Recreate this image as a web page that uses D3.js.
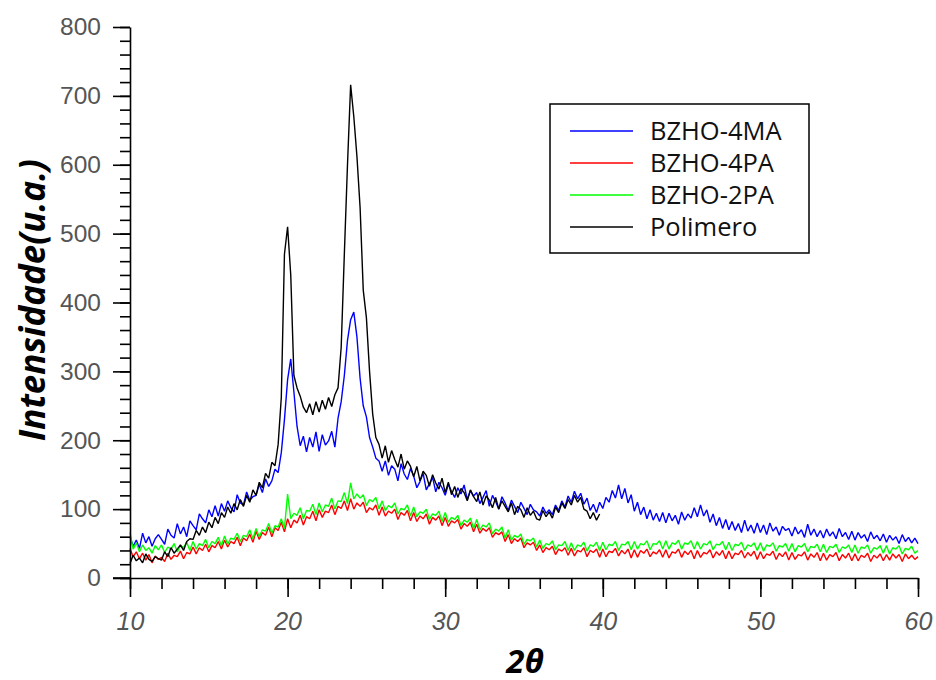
<!DOCTYPE html>
<html>
<head>
<meta charset="utf-8">
<script src="https://cdn.jsdelivr.net/npm/d3@7"></script>
<style>
  body { margin: 0; background: #fff; }
  svg { display: block; font-family: "Open Sans", sans-serif; }
</style>
</head>
<body>
<svg id="chart" width="936" height="680"></svg>
<script>
const start = 10;
const step = 0.2;

// BZHO-4MA
const bzho4ma = [
  60, 46, 55, 43, 65, 51, 60, 46, 57, 63,
  56, 49, 71, 62, 58, 79, 64, 74, 60, 83,
  76, 70, 93, 86, 80, 99, 89, 105, 90, 108,
  97, 112, 102, 96, 121, 109, 106, 125, 113, 118,
  120, 136, 124, 144, 133, 141, 158, 153, 182, 230,
  288, 318, 270, 220, 192, 206, 183, 204, 190, 212,
  184, 208, 193, 199, 213, 190, 232, 256, 294, 345,
  375, 386, 350, 290, 250, 234, 204, 190, 174, 170,
  155, 170, 149, 163, 158, 141, 166, 151, 143, 159,
  148, 131, 140, 152, 128, 137, 146, 125, 139, 131,
  120, 136, 126, 117, 131, 122, 135, 114, 127, 119,
  124, 108, 117, 127, 104, 120, 111, 100, 118, 109,
  98, 113, 104, 95, 110, 101, 92, 107, 99, 96,
  90, 103, 94, 99, 92, 106, 98, 112, 103, 119,
  110, 126, 115, 123, 107, 116, 98, 107, 95, 110,
  101, 117, 110, 127, 116, 135, 115, 130, 109, 121,
  97, 110, 92, 103, 86, 99, 84, 94, 82, 95,
  80, 94, 83, 91, 78, 96, 84, 93, 87, 102,
  89, 106, 90, 99, 81, 93, 76, 88, 72, 85,
  70, 82, 69, 79, 66, 84, 68, 77, 65, 80,
  66, 77, 63, 80, 68, 74, 62, 75, 69, 72,
  61, 74, 64, 70, 59, 78, 62, 71, 60, 69,
  58, 71, 61, 67, 57, 72, 60, 66, 56, 68,
  55, 66, 58, 63, 53, 67, 57, 62, 54, 64,
  52, 62, 55, 60, 50, 63, 53, 59, 51, 58,
  50
];

// BZHO-4PA
const bzho4pa = [
  43, 31, 38, 28, 36, 26, 34, 22, 32, 27,
  30, 24, 36, 27, 33, 31, 39, 28, 37, 35,
  45, 35, 44, 40, 49, 38, 47, 44, 53, 42,
  55, 45, 53, 50, 59, 47, 58, 54, 64, 52,
  68, 56, 66, 62, 74, 60, 73, 69, 81, 67,
  86, 73, 84, 80, 91, 77, 89, 86, 97, 83,
  99, 88, 97, 95, 106, 92, 104, 101, 112, 98,
  115, 100, 109, 104, 110, 95, 102, 99, 106, 91,
  103, 90, 97, 94, 100, 85, 95, 91, 98, 83,
  95, 82, 90, 86, 93, 78, 88, 84, 90, 76,
  88, 75, 83, 80, 85, 71, 79, 75, 81, 67,
  78, 65, 72, 68, 73, 59, 66, 63, 67, 53,
  63, 50, 57, 53, 58, 44, 51, 48, 52, 40,
  48, 37, 44, 41, 46, 34, 42, 39, 44, 33,
  43, 32, 40, 38, 44, 31, 40, 37, 42, 30,
  42, 31, 39, 37, 43, 32, 40, 35, 42, 29,
  41, 30, 40, 36, 42, 31, 38, 35, 41, 30,
  41, 29, 38, 36, 42, 30, 39, 34, 40, 28,
  40, 30, 37, 35, 41, 29, 38, 33, 40, 28,
  39, 28, 36, 34, 40, 29, 37, 32, 39, 27,
  38, 28, 35, 33, 39, 27, 36, 31, 38, 26,
  37, 27, 34, 32, 38, 26, 35, 30, 37, 25,
  36, 26, 34, 31, 37, 25, 34, 29, 36, 25,
  35, 25, 33, 30, 36, 24, 33, 29, 35, 25,
  34, 26, 35, 29, 34, 24, 35, 28, 33, 27,
  31
];

// BZHO-2PA
const bzho2pa = [
  66, 42, 51, 38, 48, 40, 44, 36, 47, 41,
  48, 37, 45, 42, 50, 38, 47, 44, 52, 40,
  53, 42, 50, 47, 56, 44, 53, 50, 59, 47,
  61, 49, 58, 56, 65, 53, 62, 60, 70, 57,
  72, 60, 70, 68, 79, 65, 76, 74, 86, 72,
  122, 86, 94, 91, 102, 86, 98, 97, 107, 92,
  109, 96, 106, 104, 116, 100, 112, 111, 124, 108,
  138, 115, 122, 116, 121, 105, 114, 111, 117, 100,
  112, 98, 105, 102, 109, 93, 101, 99, 106, 90,
  103, 89, 96, 94, 100, 85, 93, 91, 97, 82,
  95, 81, 88, 85, 91, 76, 84, 81, 87, 72,
  85, 70, 77, 74, 80, 64, 71, 68, 74, 58,
  70, 55, 62, 59, 64, 49, 56, 54, 58, 45,
  55, 43, 50, 48, 54, 41, 48, 47, 53, 40,
  51, 40, 48, 46, 52, 39, 48, 46, 52, 40,
  52, 41, 49, 47, 53, 40, 49, 48, 53, 41,
  53, 42, 50, 48, 54, 41, 50, 49, 54, 42,
  54, 42, 51, 49, 55, 42, 51, 49, 54, 42,
  53, 42, 50, 48, 54, 41, 49, 48, 53, 41,
  52, 40, 49, 47, 52, 40, 48, 46, 51, 40,
  51, 39, 48, 46, 51, 39, 47, 45, 50, 39,
  50, 38, 47, 45, 50, 38, 46, 44, 49, 38,
  49, 37, 46, 44, 49, 37, 45, 43, 48, 37,
  48, 36, 45, 43, 48, 36, 44, 42, 47, 36,
  47, 35, 44, 42, 47, 35, 43, 41, 46, 36,
  40
];

// Polimero (measured only up to ~40 degrees)
const polimero = [
  21, 33, 25, 29, 22, 35, 27, 24, 31, 28,
  26, 38, 31, 44, 36, 42, 48, 40, 53, 57,
  56, 69, 62, 74, 66, 81, 73, 88, 79, 95,
  88, 103, 94, 108, 99, 114, 104, 120, 110, 128,
  120, 139, 131, 152, 145, 168, 163, 194, 262, 470,
  510, 440, 294, 276, 264, 248, 240, 253, 237, 256,
  241, 258, 245, 262, 249, 266, 276, 335, 470, 600,
  716, 670, 612, 538, 418, 378, 300, 238, 204, 194,
  174, 192, 168, 185, 172, 161, 180, 158, 170, 162,
  147, 162, 141, 155, 149, 133, 150, 138, 129, 145,
  124, 139, 121, 133, 117, 130, 124, 112, 128, 118,
  111, 125, 106, 119, 113, 102, 117, 100, 112, 104,
  96, 109, 92, 104, 99, 88, 102, 91, 97, 86,
  84, 98, 89, 96, 87, 103, 95, 109, 101, 114,
  106, 120, 110, 117, 100, 97, 86, 95, 84, 93
];

const seriesNames = ["BZHO-4MA", "BZHO-4PA", "BZHO-2PA", "Polimero"];
const seriesColors = ["#0000ff", "#ff0000", "#00ff00", "#000000"];
const seriesValues = [bzho4ma, bzho4pa, bzho2pa, polimero];

const xTicks = [10, 20, 30, 40, 50, 60];
const yTicks = [0, 100, 200, 300, 400, 500, 600, 700, 800];

const svg = d3.select("#chart");

const x = d3.scaleLinear().domain([10, 60]).range([130, 918]);
const y = d3.scaleLinear().domain([0, 800]).range([578, 27]);

// curves
const line = d3.line()
  .x((d, i) => x(start + i * step))
  .y(d => y(d));

svg.append("g")
  .selectAll("path")
  .data(seriesValues)
  .join("path")
  .attr("d", line)
  .attr("fill", "none")
  .attr("stroke", (d, i) => seriesColors[i])
  .attr("stroke-width", 1.4)
  .attr("stroke-linejoin", "bevel");

// minor ticks
svg.append("g")
  .attr("transform", "translate(130,0)")
  .call(d3.axisLeft(y).tickValues(d3.range(0, 801, 20)).tickSize(10).tickFormat(""))
  .call(g => g.select(".domain").remove())
  .call(g => g.selectAll("line").attr("stroke-width", 1.6));

svg.append("g")
  .attr("transform", "translate(0,578)")
  .call(d3.axisBottom(x).tickValues(d3.range(10, 61, 2)).tickSize(11).tickFormat(""))
  .call(g => g.select(".domain").remove())
  .call(g => g.selectAll("line").attr("stroke-width", 1.6));

// major axes
const yAxis = svg.append("g")
  .attr("transform", "translate(130,0)")
  .call(d3.axisLeft(y).tickValues(yTicks).tickSize(17).tickPadding(12).tickSizeOuter(0));
yAxis.select(".domain").attr("stroke-width", 1.6);
yAxis.selectAll("line").attr("stroke-width", 1.6);
yAxis.selectAll("text")
  .attr("font-size", 24.5)
  .attr("fill", "#555");

const xAxis = svg.append("g")
  .attr("transform", "translate(0,578)")
  .call(d3.axisBottom(x).tickValues(xTicks).tickSize(19).tickPadding(15).tickSizeOuter(0));
xAxis.select(".domain").attr("stroke-width", 1.6);
xAxis.selectAll("line").attr("stroke-width", 1.6);
xAxis.selectAll("text")
  .attr("font-size", 25)
  .attr("font-style", "italic")
  .attr("fill", "#555");

// the x axis line also runs under the 0 tick
svg.append("line")
  .attr("x1", 113).attr("x2", 130)
  .attr("y1", y(0)).attr("y2", y(0))
  .attr("stroke", "#000").attr("stroke-width", 1.6);

// titles
svg.append("text")
  .attr("x", 525).attr("y", 673)
  .attr("text-anchor", "middle")
  .attr("font-size", 33)
  .attr("font-weight", "bold")
  .attr("font-style", "italic")
  .text("2θ");

svg.append("text")
  .attr("transform", "translate(45,300) rotate(-90)")
  .attr("text-anchor", "middle")
  .attr("font-size", 35)
  .attr("font-weight", "bold")
  .attr("font-style", "italic")
  .text("Intensidade(u.a.)");

// legend
const legend = svg.append("g");
legend.append("rect")
  .attr("x", 550).attr("y", 104)
  .attr("width", 259).attr("height", 149)
  .attr("fill", "#fff")
  .attr("stroke", "#000")
  .attr("stroke-width", 1.5);

const rows = legend.selectAll("g.row")
  .data(seriesNames)
  .join("g")
  .attr("class", "row")
  .attr("transform", (d, i) => `translate(0,${131 + i * 32})`);

rows.append("line")
  .attr("x1", 570).attr("x2", 633)
  .attr("stroke", (d, i) => seriesColors[i])
  .attr("stroke-width", 1.5);

rows.append("text")
  .attr("x", 650)
  .attr("dy", "0.35em")
  .attr("font-size", 25.5)
  .attr("fill", "#111")
  .text(d => d);
</script>
</body>
</html>
